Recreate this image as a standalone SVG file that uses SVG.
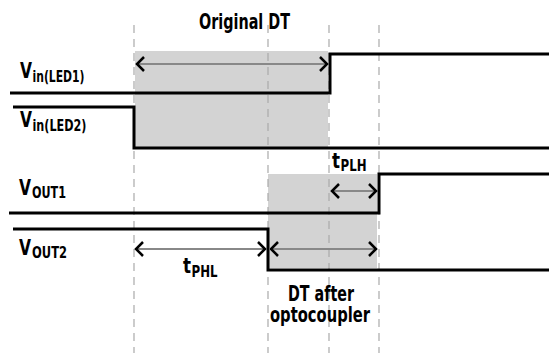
<svg xmlns="http://www.w3.org/2000/svg" width="549" height="360" viewBox="0 0 549 360">
<style>
.t{font-family:"Liberation Sans Narrow","DejaVu Sans Condensed","Liberation Sans",sans-serif;font-weight:bold;fill:#000}
.m{font-size:21px}
.s{font-size:15.5px}
.sig{fill:none;stroke:#000;stroke-width:3}
.dash{stroke:#aaa;stroke-width:1.2;stroke-dasharray:8,6;fill:none}
.arr{stroke:#888;stroke-width:2;fill:none}
.head{stroke:#000;stroke-width:2.5;fill:none}
.box{fill:#d3d3d3}
</style>
<rect width="549" height="360" fill="#fff"/>
<g id="shading">
<rect class="box" x="135" y="51" width="193" height="96"/>
<rect class="box" x="268" y="174" width="109" height="94"/>
</g>
<g id="guides">
<line class="dash" x1="134" y1="25" x2="134" y2="353"/>
<line class="dash" x1="268" y1="25" x2="268" y2="353"/>
<line class="dash" x1="329" y1="25" x2="329" y2="353"/>
<line class="dash" x1="379" y1="25" x2="379" y2="353"/>
</g>
<g id="vin1">
<path class="sig" d="M10,93 H330 V54 H549"/>
<text class="t m" x="20" y="78" textLength="12" lengthAdjust="spacingAndGlyphs">V</text>
<text class="t s" x="32.5" y="82" textLength="52" lengthAdjust="spacingAndGlyphs">in(LED1)</text>
</g>
<g id="vin2">
<path class="sig" d="M13,107 H134 V148 H549"/>
<text class="t m" x="20" y="127" textLength="12" lengthAdjust="spacingAndGlyphs">V</text>
<text class="t s" x="32.5" y="131" textLength="54" lengthAdjust="spacingAndGlyphs">in(LED2)</text>
</g>
<g id="vout1">
<path class="sig" d="M9,213 H379 V174 H549"/>
<text class="t m" x="19" y="195" textLength="12" lengthAdjust="spacingAndGlyphs">V</text>
<text class="t s" x="32" y="198" textLength="34" lengthAdjust="spacingAndGlyphs">OUT1</text>
</g>
<g id="vout2">
<path class="sig" d="M13,229 H268 V270 H549"/>
<text class="t m" x="19" y="255" textLength="12" lengthAdjust="spacingAndGlyphs">V</text>
<text class="t s" x="32" y="258" textLength="35" lengthAdjust="spacingAndGlyphs">OUT2</text>
</g>
<g id="connectors">
<line class="arr" x1="136" y1="64" x2="328" y2="64"/>
<path class="head" d="M144,57 L137,64 L144,71 M320,57 L327,64 L320,71"/>
<line class="arr" x1="331" y1="191" x2="377" y2="191"/>
<path class="head" d="M339,184 L332,191 L339,198 M369,184 L376,191 L369,198"/>
<line class="arr" x1="135" y1="249" x2="267" y2="249"/>
<path class="head" d="M143,242 L136,249 L143,256 M258,242 L265,249 L258,256"/>
<line class="arr" x1="269" y1="249" x2="377" y2="249"/>
<path class="head" d="M278,242 L271,249 L278,256 M369,242 L376,249 L369,256"/>
</g>
<g id="labels">
<text class="t m" x="199" y="29" textLength="91" lengthAdjust="spacingAndGlyphs">Original DT</text>
<text class="t m" x="332" y="168" textLength="8" lengthAdjust="spacingAndGlyphs">t</text>
<text class="t s" x="340.5" y="171" textLength="26" lengthAdjust="spacingAndGlyphs">PLH</text>
<text class="t m" x="183" y="273" textLength="8" lengthAdjust="spacingAndGlyphs">t</text>
<text class="t s" x="191.5" y="277" textLength="26" lengthAdjust="spacingAndGlyphs">PHL</text>
<text class="t m"><tspan x="288" y="301" textLength="66" lengthAdjust="spacingAndGlyphs">DT after</tspan><tspan x="270" y="322" textLength="100" lengthAdjust="spacingAndGlyphs">optocoupler</tspan></text>
</g>
</svg>
